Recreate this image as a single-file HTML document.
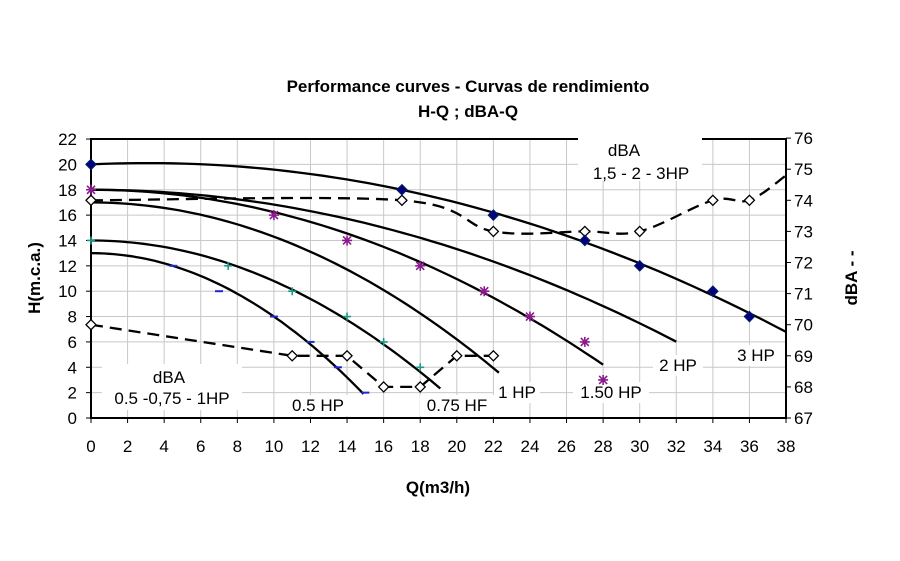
<!DOCTYPE html>
<html><head><meta charset="utf-8"><style>
body{margin:0;background:#fff}
svg{display:block;font-family:"Liberation Sans",Arial,sans-serif}
</style></head><body>
<svg id="s" width="900" height="561" viewBox="0 0 900 561" xmlns="http://www.w3.org/2000/svg">
<rect width="900" height="561" fill="#fff"/>
<g font-weight="bold" font-size="17" text-anchor="middle" fill="#000">
<text x="468" y="92">Performance curves - Curvas de rendimiento</text>
<text x="468" y="117">H-Q ; dBA-Q</text>
<text x="438" y="493">Q(m3/h)</text>
<text transform="translate(40,278) rotate(-90)">H(m.c.a.)</text>
<text transform="translate(857,278) rotate(-90)">dBA - -</text>
</g>
<g id="g"></g>
</svg>
<script>
const NS="http://www.w3.org/2000/svg",G=document.getElementById('g');
const X=q=>91+q*18.29, Y=h=>418-h*12.68, YD=d=>418-(d-67)*31.1;
function el(t,a,txt){const e=document.createElementNS(NS,t);for(const k in a)e.setAttribute(k,a[k]);if(txt!=null)e.textContent=txt;G.appendChild(e);return e;}
for(let q=2;q<38;q+=2)el('line',{x1:X(q),y1:139,x2:X(q),y2:418,stroke:'#c8c8c8','stroke-width':1});
for(let h=2;h<22;h+=2)el('line',{x1:91,y1:Y(h),x2:786,y2:Y(h),stroke:'#c8c8c8','stroke-width':1});
el('rect',{x:91,y:139,width:695,height:279,fill:'none',stroke:'#000','stroke-width':2});
for(let h=0;h<=22;h+=2){el('line',{x1:86,y1:Y(h),x2:91,y2:Y(h),stroke:'#000'});el('text',{x:77,y:Y(h)+6,'font-size':17,'text-anchor':'end'},h);}
for(let q=0;q<=38;q+=2){el('line',{x1:X(q),y1:418,x2:X(q),y2:423,stroke:'#000'});el('text',{x:X(q),y:452,'font-size':17,'text-anchor':'middle'},q);}
for(let d=67;d<=76;d++){el('line',{x1:786,y1:YD(d),x2:791,y2:YD(d),stroke:'#000'});el('text',{x:794,y:YD(d)+6,'font-size':17},d);}
function path(pts,fy){let p=pts.map(a=>[X(a[0]),fy(a[1])]);let d='M'+p[0][0]+','+p[0][1];
for(let i=0;i<p.length-1;i++){const p0=p[i-1]||p[i],p1=p[i],p2=p[i+1],p3=p[i+2]||p2;
d+=' C'+(p1[0]+(p2[0]-p0[0])/6)+','+(p1[1]+(p2[1]-p0[1])/6)+' '+(p2[0]-(p3[0]-p1[0])/6)+','+(p2[1]-(p3[1]-p1[1])/6)+' '+p2[0]+','+p2[1];}return d;}
function fn(f,qmax){let s='';for(let i=0;i<=60;i++){const q=qmax*i/60;s+=(i?' L':'M')+X(q).toFixed(1)+','+Y(f(q)).toFixed(1);}return s;}
function lab(x,y,w,t){el('rect',{x:x,y:y-16,width:w,height:21,fill:'#fff'});el('text',{x:x+w/2,y:y,'font-size':17,'text-anchor':'middle'},t);}
el('rect',{x:578,y:136,width:124,height:45,fill:'#fff'});
el('text',{x:624,y:156,'font-size':17,'text-anchor':'middle'},'dBA');
el('text',{x:641,y:179,'font-size':17,'text-anchor':'middle'},'1,5 - 2 - 3HP');
el('rect',{x:102,y:364,width:140,height:46,fill:'#fff'});
el('text',{x:169,y:383,'font-size':17,'text-anchor':'middle'},'dBA');
el('text',{x:172,y:404,'font-size':17,'text-anchor':'middle'},'0.5 -0,75 - 1HP');
lab(284,411,68,'0.5 HP');lab(420,411,74,'0.75 HF');lab(494,398,46,'1 HP');lab(573,398,76,'1.50 HP');
lab(653,371,50,'2 HP');lab(733,361,46,'3 HP');
const curves=[[q=>13-0.05*q*q,14.9],[q=>14-0.032*q*q,19.1],[q=>17-0.027*q*q,22.3],[q=>18-0.0176*q*q,28],[q=>18-0.0117*q*q,32],[q=>20+0.068*q-0.01094*q*q,38]];
curves.forEach(c=>el('path',{d:fn(c[0],c[1]),fill:'none',stroke:'#000','stroke-width':2.3}));
const dA=[[0,74],[17,74],[22,73],[27,73],[30,73],[34,74],[36,74],[38,74.8]];
el('path',{d:path(dA,YD),fill:'none',stroke:'#000','stroke-width':2.3,'stroke-dasharray':'12,7'});
const dB=[[0,70],[11,69],[14,69],[16,68],[18,68],[20,69],[22,69]];
el('polyline',{points:dB.map(a=>X(a[0])+','+YD(a[1])).join(' '),fill:'none',stroke:'#000','stroke-width':2.3,'stroke-dasharray':'12,7'});
function dia(x,y,fill){el('path',{d:`M${x},${y-5} L${x+5},${y} L${x},${y+5} L${x-5},${y}Z`,fill:fill,stroke:fill=='#fff'?'#000':'#001a66','stroke-width':1.3});}
dA.slice(0,7).forEach(a=>dia(X(a[0]),YD(a[1]),'#fff'));
dB.forEach(a=>dia(X(a[0]),YD(a[1]),'#fff'));
[[0,20],[17,18],[22,16],[27,14],[30,12],[34,10],[36,8]].forEach(a=>dia(X(a[0]),Y(a[1]),'#000080'));
[[0,18],[10,16],[14,14],[18,12],[21.5,10],[24,8],[27,6],[28,3]].forEach(a=>{const x=X(a[0]),y=Y(a[1]);
el('path',{d:`M${x-5},${y}H${x+5}M${x},${y-5}V${y+5}M${x-4},${y-4}L${x+4},${y+4}M${x+4},${y-4}L${x-4},${y+4}`,stroke:'#8b1a8b','stroke-width':1.6});});
[[0,14],[7.5,12],[11,10],[14,8],[16,6],[18,4]].forEach(a=>{const x=X(a[0]),y=Y(a[1]);
el('path',{d:`M${x-4},${y}H${x+4}M${x},${y-4}V${y+4}`,stroke:'#1a9a8a','stroke-width':1.6});});
[[4.5,12],[7,10],[10,8],[12,6],[13.5,4],[15,2]].forEach(a=>{const x=X(a[0]),y=Y(a[1]);
el('path',{d:`M${x-4},${y}H${x+4}`,stroke:'#1a2ad0','stroke-width':2});});
</script>
</body></html>
